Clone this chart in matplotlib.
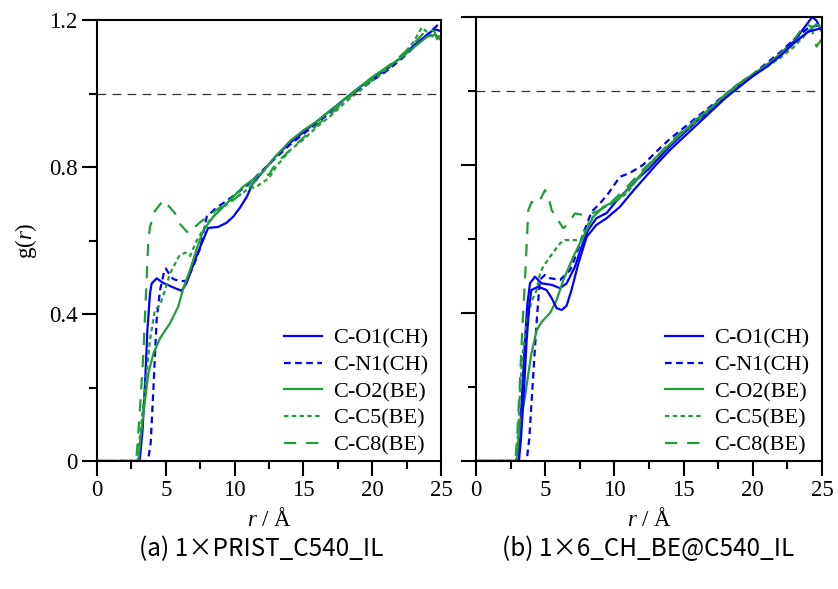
import matplotlib
matplotlib.use("Agg")
import matplotlib.pyplot as plt

plt.rcParams["font.family"] = ["Liberation Serif", "DejaVu Serif"]
plt.rcParams["mathtext.fontset"] = "custom"
plt.rcParams["mathtext.rm"] = "Liberation Serif"
plt.rcParams["mathtext.it"] = "Liberation Serif:italic"

BLUE = "#0000ff"
GREEN = "#1f9e3a"

LABELS = ["C-O1(CH)", "C-N1(CH)", "C-O2(BE)", "C-C5(BE)", "C-C8(BE)"]
CAPTIONS = ["(a) 1\u00d7PRIST_C540_IL", "(b) 1\u00d76_CH_BE@C540_IL"]

# ---- panel (a) ----
a_o1_r = [0, 3.1, 3.3, 3.5, 3.66, 3.85, 3.97, 4.33, 4.8, 5.5, 6.15, 6.5, 7.0, 7.5, 8.07, 8.8, 9.4, 9.9,
          10.4, 10.9, 11.3, 12, 13, 14, 15, 16, 17, 18, 19, 20, 21, 22, 23, 24, 24.5, 25]
a_o1_g = [0, 0, 0.08, 0.22, 0.356, 0.457, 0.483, 0.497, 0.485, 0.473, 0.463, 0.484, 0.535, 0.583, 0.634,
          0.637, 0.648, 0.665, 0.69, 0.72, 0.755, 0.785, 0.83, 0.865, 0.895, 0.925, 0.955, 0.985, 1.015,
          1.04, 1.065, 1.095, 1.13, 1.16, 1.175, 1.17]

a_n1_r = [0, 3.7, 3.9, 4.1, 4.33, 4.58, 4.87, 5.0, 5.3, 5.55, 6.0, 6.5, 7.0, 7.5, 7.97, 8.7, 9.5, 10.2,
          10.9, 12, 13, 14, 15, 16, 17, 18, 19, 20, 21, 22, 23, 24, 25]
a_n1_g = [0, 0, 0.05, 0.2, 0.384, 0.465, 0.515, 0.524, 0.505, 0.495, 0.49, 0.49, 0.53, 0.58, 0.665, 0.69,
          0.71, 0.73, 0.75, 0.79, 0.825, 0.86, 0.89, 0.92, 0.95, 0.985, 1.01, 1.035, 1.06, 1.09, 1.125,
          1.16, 1.195]

a_o2_r = [0, 3.0, 3.15, 3.37, 3.73, 4.1, 4.58, 5.3, 5.9, 6.27, 6.76, 7.25, 7.73, 8.45, 9.4, 10.6, 11.3,
          12, 13, 14, 15, 16, 17, 18, 19, 20, 21, 22, 23, 24, 24.6, 25]
a_o2_g = [0, 0, 0.06, 0.13, 0.239, 0.293, 0.334, 0.375, 0.42, 0.47, 0.52, 0.578, 0.628, 0.665, 0.7, 0.746,
          0.765, 0.785, 0.83, 0.87, 0.9, 0.925, 0.955, 0.985, 1.015, 1.045, 1.07, 1.095, 1.125, 1.155,
          1.16, 1.145]

a_c5_r = [0, 2.95, 3.1, 3.3, 3.5, 3.85, 4.2, 4.58, 4.94, 5.3, 6.0, 6.4, 6.76, 7.25, 8.0, 8.9, 10, 11, 11.6,
          12.5, 13, 14, 15, 16, 17, 18, 19, 20, 21, 22, 23, 23.6, 24.2, 24.6, 25]
a_c5_g = [0, 0, 0.06, 0.13, 0.2, 0.33, 0.41, 0.425, 0.465, 0.51, 0.56, 0.567, 0.558, 0.6, 0.647, 0.683,
          0.715, 0.74, 0.747, 0.77, 0.8, 0.845, 0.875, 0.91, 0.94, 0.975, 1.005, 1.035, 1.065, 1.095,
          1.14, 1.18, 1.16, 1.15, 1.16]

a_c8_r = [0, 2.85, 3.1, 3.37, 3.55, 3.73, 3.85, 4.2, 4.82, 5.06, 5.67, 5.9, 6.63, 6.9, 7.5, 8.2, 8.94,
          9.9, 10.9, 11.6, 12.5, 13, 14, 15, 16, 17, 18, 19, 20, 21, 22, 23, 24, 24.5, 25]
a_c8_g = [0, 0, 0.13, 0.293, 0.45, 0.6, 0.637, 0.68, 0.71, 0.70, 0.674, 0.65, 0.62, 0.63, 0.65, 0.67,
          0.69, 0.71, 0.74, 0.765, 0.78, 0.81, 0.845, 0.88, 0.915, 0.945, 0.98, 1.01, 1.04, 1.07, 1.1,
          1.135, 1.175, 1.17, 1.12]

# ---- panel (b) ----
b_o1_r = [0, 3.0, 3.15, 3.3, 3.5, 3.7, 3.9, 4.26, 4.75, 5.47, 6.07, 6.55, 7.15, 7.64, 8.1, 8.7, 9.44,
          10.2, 10.9, 11.6, 12.5, 13, 14, 15, 16, 17, 18, 19, 20, 21, 22, 23, 23.8, 24.3, 24.6, 25]
b_o1_g = [0, 0, 0.06, 0.16, 0.3, 0.42, 0.48, 0.498, 0.48, 0.476, 0.467, 0.48, 0.525, 0.58, 0.624, 0.656,
          0.67, 0.705, 0.732, 0.76, 0.79, 0.81, 0.85, 0.885, 0.92, 0.95, 0.985, 1.015, 1.04, 1.07, 1.1,
          1.135, 1.175, 1.2, 1.19, 1.16]

# second solid blue curve in (b), not listed in the legend
b_o1x_r = [0, 3.1, 3.25, 3.45, 3.65, 3.85, 4.0, 4.5, 5.1, 5.47, 5.83, 6.2, 6.55, 6.9, 7.4, 8.0, 8.7,
           9.44, 10.4, 11.4, 12.3, 13, 14, 15, 16, 17, 18, 19, 20, 21, 22, 23, 24, 25]
b_o1x_g = [0, 0, 0.06, 0.18, 0.32, 0.42, 0.462, 0.471, 0.462, 0.44, 0.413, 0.408, 0.42, 0.462, 0.534,
           0.606, 0.638, 0.656, 0.687, 0.732, 0.77, 0.8, 0.84, 0.875, 0.91, 0.945, 0.98, 1.01, 1.04,
           1.065, 1.095, 1.13, 1.16, 1.17]

b_n1_r = [0, 3.66, 3.85, 4.05, 4.25, 4.39, 4.62, 4.99, 5.35, 6.07, 6.8, 7.28, 7.75, 8.36, 8.96, 9.56,
          10.4, 11.1, 12.07, 13, 14, 15, 16, 17, 18, 19, 20, 21, 22, 23, 24, 25]
b_n1_g = [0, 0, 0.06, 0.18, 0.3, 0.38, 0.49, 0.503, 0.494, 0.489, 0.516, 0.561, 0.615, 0.674, 0.696,
          0.723, 0.768, 0.778, 0.8, 0.835, 0.87, 0.9, 0.93, 0.96, 0.99, 1.02, 1.045, 1.075, 1.105, 1.14,
          1.17, 1.18]

b_o2_r = [0, 2.95, 3.06, 3.3, 3.54, 4.0, 4.39, 4.75, 5.35, 5.83, 6.31, 7.03, 7.75, 8.48, 9.2, 10.2, 11.4,
          12.5, 13, 14, 15, 16, 17, 18, 19, 20, 21, 22, 23, 24, 24.6, 25]
b_o2_g = [0, 0, 0.057, 0.12, 0.174, 0.29, 0.354, 0.376, 0.40, 0.435, 0.489, 0.552, 0.606, 0.66, 0.687,
          0.705, 0.75, 0.8, 0.82, 0.855, 0.89, 0.925, 0.955, 0.99, 1.02, 1.045, 1.07, 1.1, 1.13, 1.16,
          1.18, 1.17]

b_c5_r = [0, 2.9, 3.05, 3.2, 3.4, 3.7, 4.0, 4.39, 4.62, 4.86, 5.35, 6.07, 6.43, 7.28, 7.64, 8.24, 9.0,
          10, 10.9, 12, 13, 14, 15, 16, 17, 18, 19, 20, 21, 22, 23, 24, 24.6, 25]
b_c5_g = [0, 0, 0.08, 0.2, 0.3, 0.38, 0.43, 0.462, 0.507, 0.525, 0.552, 0.588, 0.597, 0.597, 0.602,
          0.651, 0.68, 0.7, 0.723, 0.78, 0.82, 0.855, 0.89, 0.92, 0.95, 0.985, 1.015, 1.04, 1.065, 1.09,
          1.12, 1.16, 1.18, 1.17]

b_c8_r = [0, 2.85, 3.0, 3.18, 3.35, 3.54, 3.78, 4.02, 4.5, 4.99, 5.23, 5.47, 5.83, 6.31, 6.67, 7.15,
          7.75, 8.36, 8.96, 9.8, 10.9, 12, 13, 14, 15, 16, 17, 18, 19, 20, 21, 22, 23, 23.8, 24.2, 24.6, 25]
b_c8_g = [0, 0, 0.08, 0.219, 0.36, 0.489, 0.678, 0.70, 0.696, 0.732, 0.714, 0.678, 0.656, 0.629, 0.642,
          0.669, 0.665, 0.669, 0.678, 0.7, 0.74, 0.785, 0.82, 0.86, 0.895, 0.925, 0.955, 0.985, 1.015,
          1.04, 1.07, 1.1, 1.14, 1.18, 1.175, 1.12, 1.14]

STYLES = [
    dict(color=BLUE, lw=1.6, ls="-"),
    dict(color=BLUE, lw=1.6, dashes=(3, 2)),
    dict(color=GREEN, lw=1.6, ls="-"),
    dict(color=GREEN, lw=1.6, dashes=(2, 1.5)),
    dict(color=GREEN, lw=1.6, dashes=(5.5, 4.5)),
]


def draw_panel(ax, curves, extra=None, show_ylabels=True):
    for (r, g), lab, st in zip(curves, LABELS, STYLES):
        ax.plot(r, g, label=lab, **st)
    if extra is not None:
        ax.plot(extra[0], extra[1], color=BLUE, lw=1.6)
    ax.hlines(1.0, 0, 24.6, color="#333333", lw=0.9, linestyles=(0, (7, 5)))

    ax.set_xlim(0, 25)
    ax.set_ylim(0, 1.2)
    ax.set_xticks([0, 5, 10, 15, 20, 25])
    ax.set_xticks([2.5, 7.5, 12.5, 17.5, 22.5], minor=True)
    ax.set_yticks([0, 0.4, 0.8, 1.2])
    ax.set_yticks([0.2, 0.6, 1.0], minor=True)
    ax.set_yticklabels(["0", "0.4", "0.8", "1.2"] if show_ylabels else [])
    ax.tick_params(which="major", direction="out", length=11, width=1.5, labelsize=16.5, pad=3)
    ax.tick_params(which="minor", direction="out", length=5.5, width=1.5)
    for sp in ax.spines.values():
        sp.set_linewidth(1.5)
    ax.set_xlabel(r"$\mathit{r}$ / Å", fontsize=16.5, labelpad=5)
    ax.legend(loc="lower right", bbox_to_anchor=(0.962, 0.012), frameon=False, fontsize=16,
              borderpad=0, borderaxespad=0, labelspacing=0.28, handlelength=1.7,
              handletextpad=0.5)


fig = plt.figure(figsize=(8.38, 5.89), dpi=100)
ax_a = fig.add_axes([0.1158, 0.2173, 0.4105, 0.7487])
ax_b = fig.add_axes([0.568, 0.2173, 0.4129, 0.754])

draw_panel(ax_a, [(a_o1_r, a_o1_g), (a_n1_r, a_n1_g), (a_o2_r, a_o2_g), (a_c5_r, a_c5_g),
                  (a_c8_r, a_c8_g)])
draw_panel(ax_b, [(b_o1_r, b_o1_g), (b_n1_r, b_n1_g), (b_o2_r, b_o2_g), (b_c5_r, b_c5_g),
                  (b_c8_r, b_c8_g)], extra=(b_o1x_r, b_o1x_g), show_ylabels=False)

ax_a.set_ylabel(r"g($\mathit{r}$)", fontsize=16.5, labelpad=7)

fig.text(261 / 838, 1 - 549 / 589, CAPTIONS[0], ha="center", va="center", fontsize=17.5,
         family=["Noto Sans CJK SC", "DejaVu Sans"])
fig.text(648 / 838, 1 - 549 / 589, CAPTIONS[1], ha="center", va="center", fontsize=17.5,
         family=["Noto Sans CJK SC", "DejaVu Sans"])

fig.savefig("out.png", dpi=100)
